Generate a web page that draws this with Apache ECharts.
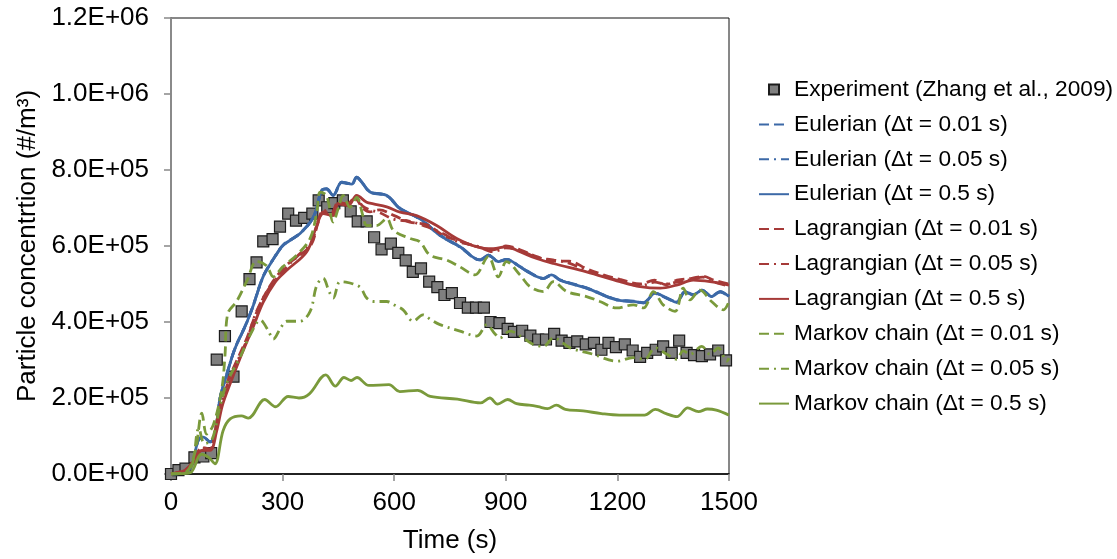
<!DOCTYPE html>
<html>
<head>
<meta charset="utf-8">
<script src="https://cdn.jsdelivr.net/npm/echarts@6/dist/echarts.min.js"></script>
<style>
  html, body { margin: 0; padding: 0; background: #fff; }
  #chart { width: 1117px; height: 559px; }
</style>
</head>
<body>
<div id="chart"></div>
<script>
// Particle concentration over time: measurement vs. three model families at three time steps.
const xTicks = [0, 300, 600, 900, 1200, 1500];
const yTickLabels = ['0.0E+00', '2.0E+05', '4.0E+05', '6.0E+05', '8.0E+05', '1.0E+06', '1.2E+06'];

const seriesNames = [
  'Experiment (Zhang et al., 2009)',
  'Eulerian (\u0394t = 0.01 s)',
  'Eulerian (\u0394t = 0.05 s)',
  'Eulerian (\u0394t = 0.5 s)',
  'Lagrangian (\u0394t = 0.01 s)',
  'Lagrangian (\u0394t = 0.05 s)',
  'Lagrangian (\u0394t = 0.5 s)',
  'Markov chain (\u0394t = 0.01 s)',
  'Markov chain (\u0394t = 0.05 s)',
  'Markov chain (\u0394t = 0.5 s)'
];

// [time (s), concentration (#/m3)]
const experiment = [
  [0, 0], [20, 10000], [39, 14000], [63, 44000], [87, 46000], [108, 55000], [123, 301000],
  [145, 363000], [168, 256000], [190, 428000], [211, 513000], [230, 557000], [248, 612000],
  [273, 618000], [293, 651000], [315, 685000], [336, 667000], [358, 674000], [380, 685000],
  [397, 720000], [420, 702000], [439, 713000], [462, 720000], [483, 691000], [502, 665000],
  [526, 665000], [546, 623000], [566, 591000], [591, 606000], [611, 582000], [631, 562000],
  [650, 532000], [672, 541000], [694, 506000], [716, 492000], [735, 471000], [755, 476000],
  [777, 450000], [798, 438000], [820, 438000], [841, 438000], [859, 400000], [883, 397000],
  [905, 382000], [922, 374000], [944, 377000], [966, 364000], [987, 354000], [1008, 354000],
  [1030, 369000], [1050, 351000], [1071, 345000], [1092, 349000], [1115, 341000], [1137, 345000],
  [1157, 327000], [1176, 345000], [1196, 334000], [1220, 341000], [1241, 325000], [1261, 308000],
  [1280, 319000], [1303, 327000], [1323, 336000], [1346, 319000], [1366, 351000], [1386, 319000],
  [1406, 313000], [1427, 310000], [1449, 315000], [1471, 325000], [1492, 299000]
];

const eulerian001 = [
  [0, 0], [30, 3000], [55, 21000], [73, 89000], [87, 97000], [105, 85000], [118, 106000],
  [132, 201000], [150, 263000], [172, 331000], [200, 391000], [220, 441000], [248, 521000],
  [275, 566000], [302, 603000], [347, 634000], [383, 677000], [405, 746000], [418, 751000],
  [436, 734000], [459, 768000], [486, 764000], [499, 781000], [510, 772000], [535, 743000],
  [580, 733000], [616, 699000], [669, 672000], [723, 629000], [777, 598000], [831, 564000],
  [853, 576000], [880, 560000], [902, 565000], [938, 546000], [974, 525000], [1001, 515000],
  [1023, 524000], [1046, 511000], [1117, 490000], [1198, 459000], [1243, 455000], [1270, 451000],
  [1301, 476000], [1333, 463000], [1359, 453000], [1382, 480000], [1404, 472000], [1427, 484000],
  [1453, 468000], [1476, 480000], [1500, 468000]
];

const eulerian005 = [
  [0, 0], [30, 3000], [55, 20000], [73, 88000], [87, 98000], [105, 84000], [118, 105000],
  [132, 200000], [150, 262000], [172, 330000], [200, 390000], [220, 440000], [248, 520000],
  [275, 565000], [302, 602000], [347, 633000], [383, 676000], [405, 745000], [418, 750000],
  [436, 733000], [459, 767000], [486, 763000], [499, 780000], [510, 771000], [535, 742000],
  [580, 732000], [616, 698000], [669, 671000], [723, 628000], [777, 597000], [831, 563000],
  [853, 575000], [880, 559000], [902, 564000], [938, 545000], [974, 524000], [1001, 514000],
  [1023, 523000], [1046, 510000], [1117, 489000], [1198, 458000], [1243, 454000], [1270, 450000],
  [1301, 475000], [1333, 462000], [1359, 452000], [1382, 479000], [1404, 471000], [1427, 483000],
  [1453, 467000], [1476, 479000], [1500, 467000]
];

const eulerian05 = [
  [0, 0], [30, 3000], [55, 20000], [73, 88000], [87, 97000], [105, 84000], [118, 105000],
  [132, 200000], [150, 262000], [172, 330000], [200, 390000], [220, 440000], [248, 520000],
  [275, 565000], [302, 602000], [347, 633000], [383, 676000], [405, 746000], [418, 750000],
  [436, 733000], [459, 768000], [486, 763000], [499, 781000], [510, 772000], [535, 742000],
  [580, 733000], [616, 698000], [669, 672000], [723, 628000], [777, 598000], [831, 563000],
  [853, 576000], [880, 559000], [902, 565000], [938, 545000], [974, 524000], [1001, 515000],
  [1023, 524000], [1046, 510000], [1117, 489000], [1198, 458000], [1243, 454000], [1270, 450000],
  [1301, 476000], [1333, 463000], [1359, 452000], [1382, 480000], [1404, 471000], [1427, 484000],
  [1453, 467000], [1476, 480000], [1500, 467000]
];

const lagrangian001 = [
  [0, 0], [40, 12000], [65, 42000], [83, 70000], [105, 66000], [120, 125000], [136, 195000],
  [155, 250000], [180, 305000], [205, 360000], [230, 425000], [266, 495000], [311, 550000],
  [347, 576000], [378, 606000], [395, 660000], [410, 690000], [430, 685000], [450, 715000],
  [475, 710000], [495, 725000], [515, 700000], [535, 690000], [560, 695000], [600, 680000],
  [642, 663000], [690, 655000], [732, 628000], [770, 615000], [822, 598000], [866, 590000],
  [900, 600000], [938, 590000], [983, 572000], [1030, 560000], [1070, 560000], [1117, 540000],
  [1160, 525000], [1207, 512000], [1261, 500000], [1300, 510000], [1330, 498000], [1360, 510000],
  [1400, 515000], [1430, 520000], [1460, 510000], [1500, 500000]
];

const lagrangian005 = [
  [0, 0], [40, 11000], [65, 40000], [83, 68000], [105, 64000], [120, 120000], [136, 185000],
  [155, 245000], [180, 300000], [205, 355000], [230, 428000], [266, 492000], [311, 545000],
  [347, 580000], [378, 610000], [395, 665000], [410, 695000], [430, 680000], [450, 712000],
  [475, 712000], [495, 728000], [515, 705000], [535, 695000], [560, 688000], [600, 670000],
  [642, 665000], [690, 650000], [732, 632000], [770, 612000], [822, 600000], [866, 585000],
  [900, 595000], [938, 588000], [983, 570000], [1030, 563000], [1070, 555000], [1117, 535000],
  [1160, 522000], [1207, 508000], [1261, 495000], [1300, 505000], [1330, 500000], [1360, 505000],
  [1400, 512000], [1430, 518000], [1460, 505000], [1500, 495000]
];

const lagrangian05 = [
  [0, 0], [38, 10000], [65, 36000], [83, 62000], [105, 62000], [123, 114000], [138, 180000],
  [160, 240000], [190, 315000], [220, 385000], [248, 452000], [280, 505000], [311, 536000],
  [365, 585000], [392, 654000], [409, 685000], [436, 680000], [450, 711000], [477, 707000],
  [499, 733000], [526, 715000], [544, 711000], [580, 703000], [616, 689000], [660, 680000],
  [714, 654000], [768, 620000], [822, 598000], [866, 593000], [902, 598000], [938, 585000],
  [983, 567000], [1028, 554000], [1117, 532000], [1207, 506000], [1261, 493000], [1315, 489000],
  [1359, 497000], [1404, 510000], [1449, 506000], [1500, 497000]
];

const markov001 = [
  [0, 0], [40, 5000], [65, 60000], [83, 160000], [96, 105000], [114, 130000], [136, 220000],
  [145, 310000], [152, 420000], [177, 455000], [205, 510000], [230, 560000], [257, 548000],
  [275, 519000], [300, 545000], [338, 576000], [374, 620000], [392, 690000], [401, 742000],
  [418, 733000], [436, 663000], [450, 700000], [463, 733000], [481, 702000], [499, 728000],
  [517, 676000], [526, 654000], [553, 654000], [580, 672000], [598, 641000], [642, 620000],
  [669, 611000], [696, 576000], [741, 563000], [777, 545000], [817, 524000], [853, 572000],
  [880, 519000], [902, 559000], [938, 524000], [965, 493000], [1001, 480000], [1028, 506000],
  [1064, 480000], [1117, 467000], [1153, 454000], [1198, 437000], [1243, 445000], [1270, 437000],
  [1297, 480000], [1323, 445000], [1355, 428000], [1377, 489000], [1395, 458000], [1422, 484000],
  [1453, 454000], [1485, 432000], [1500, 454000]
];

const markov005 = [
  [0, 0], [50, 10000], [75, 120000], [90, 80000], [110, 90000], [130, 170000], [150, 240000],
  [185, 306000], [215, 370000], [240, 405000], [260, 380000], [275, 355000], [295, 385000],
  [311, 402000], [347, 402000], [374, 428000], [392, 497000], [409, 515000], [425, 480000],
  [436, 463000], [454, 506000], [470, 505000], [490, 500000], [510, 490000], [526, 463000],
  [545, 454000], [580, 454000], [600, 445000], [624, 432000], [651, 402000], [677, 419000],
  [700, 405000], [723, 393000], [777, 376000], [822, 363000], [849, 393000], [870, 370000],
  [884, 358000], [911, 376000], [947, 358000], [974, 341000], [1001, 336000], [1028, 358000],
  [1073, 332000], [1135, 315000], [1198, 297000], [1243, 306000], [1274, 302000], [1301, 332000],
  [1333, 315000], [1359, 302000], [1377, 324000], [1395, 315000], [1427, 336000], [1449, 315000],
  [1471, 332000], [1494, 297000], [1500, 305000]
];

const markov05 = [
  [0, 0], [30, 1000], [53, 4000], [82, 52000], [102, 43000], [118, 27000], [140, 114000],
  [159, 145000], [189, 153000], [208, 147000], [252, 196000], [281, 177000], [315, 204000],
  [344, 200000], [372, 211000], [416, 261000], [442, 231000], [465, 254000], [484, 246000],
  [500, 254000], [532, 233000], [586, 235000], [615, 217000], [663, 220000], [697, 204000],
  [770, 197000], [832, 187000], [857, 200000], [878, 184000], [905, 196000], [929, 185000],
  [963, 181000], [987, 177000], [1012, 172000], [1036, 181000], [1060, 170000], [1108, 166000],
  [1157, 159000], [1205, 155000], [1273, 155000], [1302, 170000], [1331, 159000], [1360, 151000],
  [1389, 174000], [1418, 164000], [1442, 171000], [1466, 168000], [1500, 155000]
];

const BLUE = '#3C69A7';
const RED = '#A63A38';
const GREEN = '#7A9A3B';
const DASH = [10, 5];
const DASH_DOT = [10, 5, 2, 5];

function lineSeries(name, data, color, type) {
  return {
    name: name,
    type: 'line',
    data: data,
    smooth: 0.35,
    symbol: 'none',
    clip: true,
    lineStyle: { color: color, width: 2.8, type: type },
    itemStyle: { color: color },
    emphasis: { disabled: true }
  };
}

const chart = echarts.init(document.getElementById('chart'), null, { renderer: 'canvas' });

const FONT = '"Liberation Sans", Arial, sans-serif';

// Legend entries: a small square for the measurement, plain line samples for the models
const legendData = seriesNames.map(function (n, i) {
  if (i === 0) {
    return { name: n, icon: 'path://M0,0L10,0L10,10L0,10Z' };
  }
  return { name: n, itemStyle: { color: 'rgba(0,0,0,0)', borderColor: 'rgba(0,0,0,0)', borderWidth: 0 } };
});

chart.setOption({
  animation: false,
  backgroundColor: '#ffffff',
  textStyle: { fontFamily: FONT },
  grid: {
    left: 171, right: 388, top: 18, bottom: 82,
    show: true, borderColor: '#111', borderWidth: 1, backgroundColor: 'transparent'
  },
  legend: {
    orient: 'vertical',
    left: 753,
    top: 73,
    itemWidth: 30,
    itemHeight: 10,
    itemGap: 11.9,
    symbolKeepAspect: true,
    textStyle: { fontFamily: FONT, fontSize: 22.7, color: '#000', lineHeight: 22 },
    data: legendData
  },
  xAxis: {
    type: 'value',
    min: xTicks[0],
    max: xTicks[xTicks.length - 1],
    interval: xTicks[1] - xTicks[0],
    name: 'Time (s)',
    nameLocation: 'middle',
    nameGap: 54,
    nameTextStyle: { fontFamily: FONT, fontSize: 26, color: '#000' },
    axisLine: { show: true, onZero: false, lineStyle: { color: '#000', width: 1.5 } },
    axisTick: { show: true, inside: false, length: 7, lineStyle: { color: '#888', width: 1.5 } },
    axisLabel: {
      fontFamily: FONT, fontSize: 26, color: '#000', margin: 16,
      formatter: function (v) { return String(v); }
    },
    splitLine: { show: false }
  },
  yAxis: [{
    type: 'value',
    min: 0,
    max: 1200000,
    interval: 200000,
    name: 'Particle concentrtion (#/m\u00B3)',
    nameLocation: 'middle',
    nameGap: 130,
    nameRotate: 90,
    nameTextStyle: { fontFamily: FONT, fontSize: 26, color: '#000' },
    axisLine: { show: true, onZero: false, lineStyle: { color: '#000', width: 1.5 } },
    axisTick: { show: true, inside: false, length: 7, lineStyle: { color: '#888', width: 1.5 } },
    axisLabel: {
      fontFamily: FONT, fontSize: 26, color: '#000', margin: 22,
      formatter: function (v) { return yTickLabels[Math.round(v / 200000)]; }
    },
    splitLine: { show: false }
  }, {
    type: 'value',
    position: 'right',
    min: 0,
    max: 1200000,
    interval: 200000,
    axisLine: { show: true, lineStyle: { color: '#8a8a8a', width: 2 } },
    axisTick: { show: false },
    axisLabel: { show: false },
    splitLine: { show: false }
  }],
  series: [
    {
      name: seriesNames[0],
      type: 'scatter',
      data: experiment,
      symbol: 'rect',
      symbolSize: 11,
      itemStyle: { color: '#7f7f7f', borderColor: '#1c1c1c', borderWidth: 1.2, opacity: 1 },
      emphasis: { disabled: true }
    },
    lineSeries(seriesNames[1], eulerian001, BLUE, DASH),
    lineSeries(seriesNames[2], eulerian005, BLUE, DASH_DOT),
    lineSeries(seriesNames[3], eulerian05, BLUE, 'solid'),
    lineSeries(seriesNames[4], lagrangian001, RED, DASH),
    lineSeries(seriesNames[5], lagrangian005, RED, DASH_DOT),
    lineSeries(seriesNames[6], lagrangian05, RED, 'solid'),
    lineSeries(seriesNames[7], markov001, GREEN, DASH),
    lineSeries(seriesNames[8], markov005, GREEN, DASH_DOT),
    lineSeries(seriesNames[9], markov05, GREEN, 'solid')
  ]
});
</script>
</body>
</html>
